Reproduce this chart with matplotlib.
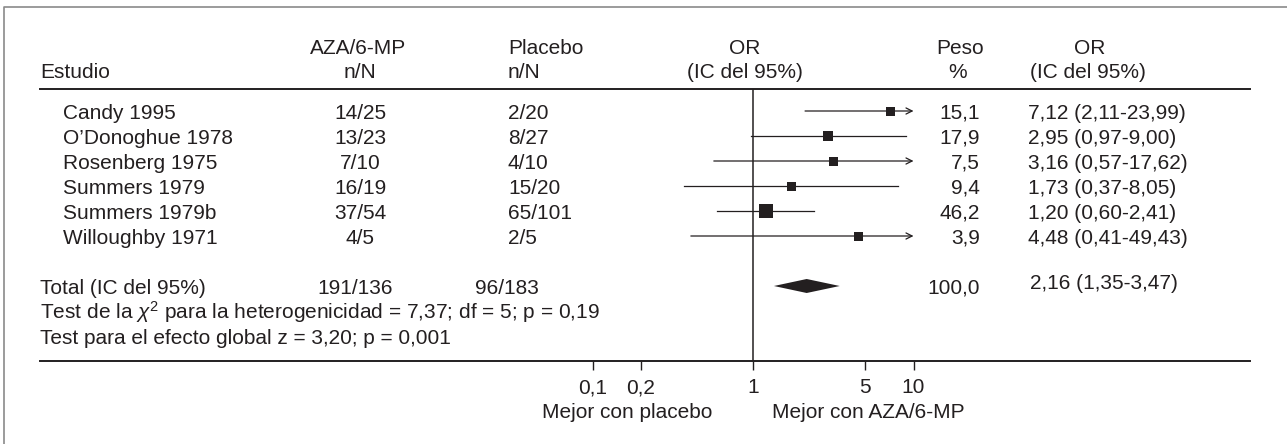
import numpy as np
import matplotlib
matplotlib.use("Agg")
import matplotlib.pyplot as plt
from matplotlib.ticker import FixedLocator, FixedFormatter, NullLocator

plt.rcParams['font.family'] = ['Liberation Sans', 'DejaVu Sans']
plt.rcParams['mathtext.fontset'] = 'custom'
plt.rcParams['mathtext.rm'] = 'Liberation Sans'
plt.rcParams['mathtext.it'] = 'Liberation Sans:italic'

studies = ["Candy 1995", "O\u2019Donoghue 1978", "Rosenberg 1975",
           "Summers 1979", "Summers 1979b", "Willoughby 1971"]
aza_events = [14, 13, 7, 16, 37, 4]
aza_total = [25, 23, 10, 19, 54, 5]
pla_events = [2, 8, 4, 15, 65, 2]
pla_total = [20, 27, 10, 20, 101, 5]
weights = [15.1, 17.9, 7.5, 9.4, 46.2, 3.9]
odds = [7.12, 2.95, 3.16, 1.73, 1.20, 4.48]
ci_low = [2.11, 0.97, 0.57, 0.37, 0.60, 0.41]
ci_high = [23.99, 9.00, 17.62, 8.05, 2.41, 49.43]

total_aza = "191/136"
total_pla = "96/183"
total_weight = 100.0
total_or, total_low, total_high = 2.16, 1.35, 3.47

tick_vals = [0.1, 0.2, 1, 5, 10]
tick_labels = ["0,1", "0,2", "1", "5", "10"]
x_clip = 10  # CIs beyond this get an arrow


def comma(v, nd):
    return f"{v:.{nd}f}".replace(".", ",")


ink = "#231f20"
FS = 15
W, H = 1287, 444

fig = plt.figure(figsize=(W / 100, H / 100), dpi=100)

# background axes in pixel units, used for the table text
tab = fig.add_axes([0, 0, 1, 1])
tab.set_xlim(0, W)
tab.set_ylim(H, 0)
tab.axis("off")

# forest plot axes: its top/bottom spines are the two rules of the table
top_rule, bottom_rule = 89, 361
left, right = 40, 1250
one_px, px_decade = 753, 160.5
ax = fig.add_axes([left / W, (H - bottom_rule) / H,
                   (right - left) / W, (bottom_rule - top_rule) / H])
ax.set_xscale("log")
ax.set_xlim(10 ** ((left - one_px) / px_decade), 10 ** ((right - one_px) / px_decade))
ax.set_ylim(bottom_rule, top_rule)
ax.patch.set_alpha(0)
ax.spines["left"].set_visible(False)
ax.spines["right"].set_visible(False)
for s in ["top", "bottom"]:
    ax.spines[s].set_linewidth(1.4)
    ax.spines[s].set_color(ink)
ax.yaxis.set_visible(False)
ax.xaxis.set_major_locator(FixedLocator(tick_vals))
ax.xaxis.set_major_formatter(FixedFormatter(tick_labels))
ax.xaxis.set_minor_locator(NullLocator())
ax.tick_params(axis="x", direction="out", length=6.5, width=1.0, pad=6,
               labelsize=FS, colors=ink)

row_y = 111 + 25 * np.arange(len(studies))
total_y, chi_y, glob_y = 286, 311, 336

ax.axvline(1, color=ink, lw=1.1)

for i in range(len(studies)):
    y = row_y[i]
    hi = min(ci_high[i], x_clip)
    if ci_high[i] > x_clip:
        ax.annotate("", xy=(hi, y), xytext=(ci_low[i], y),
                    arrowprops=dict(arrowstyle="->", lw=0.9, color=ink,
                                    shrinkA=0, shrinkB=0, mutation_scale=11))
    else:
        ax.plot([ci_low[i], hi], [y, y], color=ink, lw=0.9)
    size_px = max(9, 2.2 * np.sqrt(weights[i]))
    ax.plot(odds[i], y, marker="s", ms=size_px * 0.72, color=ink, mec=ink, mew=0)

# pooled diamond
ax.fill([total_low, total_or, total_high, total_or],
        [total_y, total_y - 7, total_y, total_y + 7], color=ink, lw=0)


def txt(x, yc, s, ha="left"):
    tab.text(x, yc + 7.5, s, ha=ha, va="baseline", fontsize=FS, color=ink)


# header
h1, h2 = 47, 70
txt(40, h2, "Estudio")
txt(358, h1, "AZA/6-MP", "center")
txt(360, h2, "n/N", "center")
txt(508, h1, "Placebo")
txt(508, h2, "n/N")
txt(745, h1, "OR", "center")
txt(745, h2, "(IC del 95%)", "center")
txt(960, h1, "Peso", "center")
txt(958, h2, "%", "center")
txt(1090, h1, "OR", "center")
txt(1088, h2, "(IC del 95%)", "center")

for i, name in enumerate(studies):
    y = row_y[i]
    txt(63, y, name)
    txt(360, y, f"{aza_events[i]}/{aza_total[i]}", "center")
    txt(508, y, f"{pla_events[i]}/{pla_total[i]}")
    txt(980, y, comma(weights[i], 1), "right")
    txt(1028, y, f"{comma(odds[i], 2)} ({comma(ci_low[i], 2)}-{comma(ci_high[i], 2)})")

txt(40, total_y, "Total (IC del 95%)")
txt(317, total_y, total_aza)
txt(475, total_y, total_pla)
txt(980, total_y, comma(total_weight, 1), "right")
txt(1030, total_y - 5, f"{comma(total_or, 2)} ({comma(total_low, 2)}-{comma(total_high, 2)})")
txt(40, chi_y, r"Test de la $\chi^2$ para la heterogenicidad = 7,37; df = 5; p = 0,19")
txt(40, glob_y, "Test para el efecto global z = 3,20; p = 0,001")

txt(712, 410, "Mejor con placebo", "right")
txt(772, 410, "Mejor con AZA/6-MP")

# frame around the figure
tab.plot([4, 4, W], [H, 7, 7], color="#8a8a8a", lw=1.2, clip_on=False)

fig.savefig("out.png", dpi=100)
